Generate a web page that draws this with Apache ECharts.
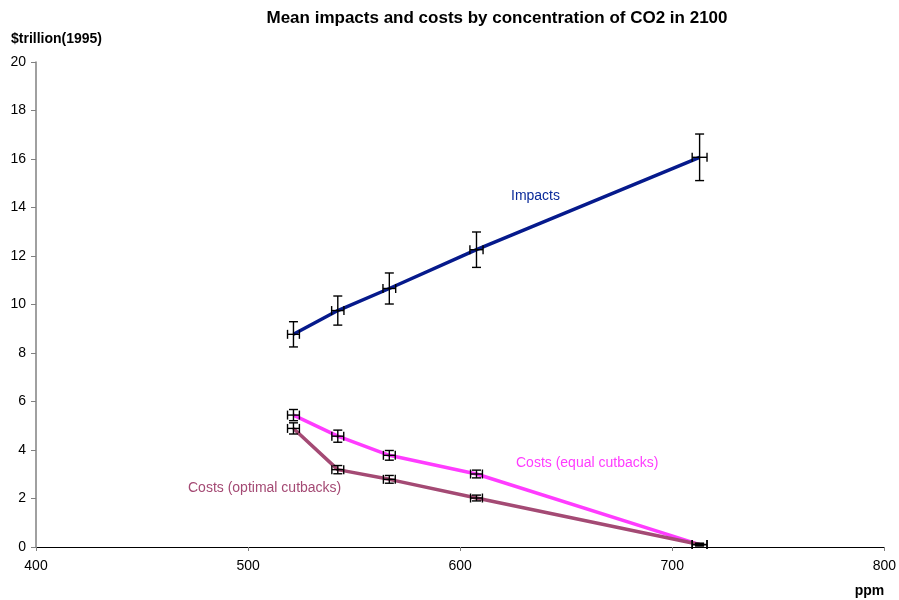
<!DOCTYPE html>
<html>
<head>
<meta charset="utf-8">
<script src="https://cdn.jsdelivr.net/npm/echarts@6/dist/echarts.min.js"></script>
<style>
html,body{margin:0;padding:0;background:#fff;}
#chart{width:899px;height:600px;}
</style>
</head>
<body>
<div id="chart"></div>
<script>
// CO2 concentration in 2100 (ppm) for each scenario
const ppm = [521.4, 542.3, 566.6, 607.7, 712.9];
// Mean damages, $trillion (1995)
const impacts = [8.77, 9.75, 10.66, 12.26, 16.07];
const impactsErrY = [0.52, 0.6, 0.64, 0.73, 0.96];
const impactsErrX = [2.8, 2.9, 3.0, 3.1, 3.5];
// Abatement costs under two burden-sharing rules
const costsEqual = [5.44, 4.57, 3.78, 3.01, 0.1];
const costsEqualErrY = [0.23, 0.25, 0.2, 0.16, 0.05];
const costsOptimal = [4.89, 3.19, 2.79, 2.02, 0.1];
const costsOptimalErrY = [0.23, 0.17, 0.16, 0.12, 0.05];
const costsErrX = [2.8, 2.8, 2.8, 2.8, 3.5];

const xTicks = [400, 500, 600, 700, 800];
const yTicks = [0, 2, 4, 6, 8, 10, 12, 14, 16, 18, 20];

const FONT = 'Liberation Sans, Arial, sans-serif';

function pairs(xs, ys) { return xs.map((x, i) => [x, ys[i]]); }
function errRows(xs, ys, ex, ey) { return xs.map((x, i) => [x, ys[i], ex[i], ey[i]]); }

// Error bars in both directions, with end caps
function errorBarRenderer(cap) {
  return function (params, api) {
    const x = api.value(0), y = api.value(1), ex = api.value(2), ey = api.value(3);
    const top = api.coord([x, y + ey]);
    const bot = api.coord([x, y - ey]);
    const lft = api.coord([x - ex, y]);
    const rgt = api.coord([x + ex, y]);
    const style = { stroke: '#000', lineWidth: 1.4 };
    const seg = (x1, y1, x2, y2) => ({ type: 'line', shape: { x1, y1, x2, y2 }, style });
    return {
      type: 'group',
      children: [
        seg(top[0], top[1], bot[0], bot[1]),
        seg(top[0] - cap, top[1], top[0] + cap, top[1]),
        seg(bot[0] - cap, bot[1], bot[0] + cap, bot[1]),
        seg(lft[0], lft[1], rgt[0], rgt[1]),
        seg(lft[0], lft[1] - cap, lft[0], lft[1] + cap),
        seg(rgt[0], rgt[1] - cap, rgt[0], rgt[1] + cap)
      ]
    };
  };
}

function lineSeries(name, ys, color) {
  return {
    name, type: 'line', data: pairs(ppm, ys), symbol: 'none', smooth: false,
    lineStyle: { color, width: 3.5 }, z: 2, animation: false
  };
}
function errSeries(ys, ex, ey, cap) {
  return {
    type: 'custom', data: errRows(ppm, ys, ex, ey), renderItem: errorBarRenderer(cap),
    z: 3, animation: false, silent: true
  };
}

const chart = echarts.init(document.getElementById('chart'), null, { renderer: 'canvas' });
chart.setOption({
  backgroundColor: '#fff',
  animation: false,
  title: {
    text: 'Mean impacts and costs by concentration of CO2 in 2100',
    left: 492, top: 5, textAlign: 'center',
    textStyle: { fontFamily: FONT, fontSize: 17, fontWeight: 'bold', color: '#000' }
  },
  grid: { left: 36, right: 13, top: 62, bottom: 53, containLabel: false },
  xAxis: {
    type: 'value', min: xTicks[0], max: xTicks[xTicks.length - 1], interval: 100,
    name: 'ppm', nameLocation: 'end', nameGap: 0,
    nameTextStyle: { fontFamily: FONT, fontSize: 14, fontWeight: 'bold', color: '#000',
      align: 'right', verticalAlign: 'top', padding: [37, 0, 0, 0] },
    axisLine: { lineStyle: { color: '#000', width: 1 } },
    axisTick: { show: true, inside: false, length: 4, lineStyle: { color: '#808080' } },
    axisLabel: { fontFamily: FONT, fontSize: 14, color: '#000', margin: 12 },
    splitLine: { show: false }
  },
  yAxis: {
    type: 'value', min: yTicks[0], max: yTicks[yTicks.length - 1], interval: 2,
    name: '$trillion(1995)', nameLocation: 'end', nameGap: 16,
    nameTextStyle: { fontFamily: FONT, fontSize: 14, fontWeight: 'bold', color: '#000',
      align: 'left', padding: [0, 0, 0, -25] },
    axisLine: { show: true, lineStyle: { color: '#808080', width: 1.5 } },
    axisTick: { show: true, inside: false, length: 5, lineStyle: { color: '#808080' } },
    axisLabel: { fontFamily: FONT, fontSize: 14, color: '#000', margin: 10 },
    splitLine: { show: false }
  },
  series: [
    lineSeries('Impacts', impacts, '#061a8c'),
    lineSeries('Costs (equal cutbacks)', costsEqual, '#ff3cff'),
    lineSeries('Costs (optimal cutbacks)', costsOptimal, '#a44a74'),
    errSeries(impacts, impactsErrX, impactsErrY, 4.5),
    errSeries(costsEqual, costsErrX, costsEqualErrY, 4.5),
    errSeries(costsOptimal, costsErrX, costsOptimalErrY, 4.5)
  ],
  graphic: [
    { type: 'text', left: 511, top: 189,
      style: { text: 'Impacts', fill: '#0a2a9a', font: '14px ' + FONT } },
    { type: 'text', left: 516, top: 456,
      style: { text: 'Costs (equal cutbacks)', fill: '#ff3cff', font: '14px ' + FONT } },
    { type: 'text', left: 188, top: 481,
      style: { text: 'Costs (optimal cutbacks)', fill: '#a44a74', font: '14px ' + FONT } }
  ]
});
</script>
</body>
</html>
